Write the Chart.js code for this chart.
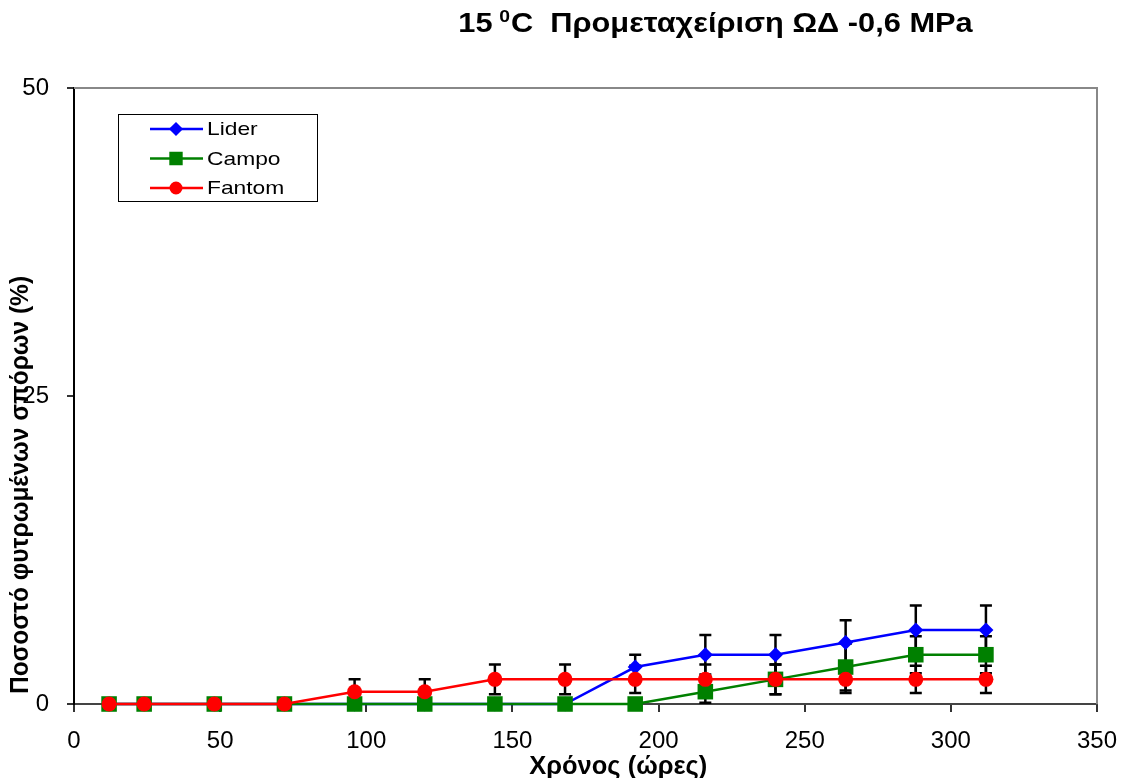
<!DOCTYPE html>
<html>
<head>
<meta charset="utf-8">
<script src="https://cdn.jsdelivr.net/npm/chart.js@4.4.1/dist/chart.umd.min.js"></script>
<style>
  body { margin: 0; background: #fff; }
  #wrap { width: 1121px; height: 778px; }
</style>
</head>
<body>
<div id="wrap"><canvas id="germChart" width="1121" height="778"></canvas></div>
<script>
// hours after sowing
const hours = [12, 24, 48, 72, 96, 120, 144, 168, 192, 216, 240, 264, 288, 312];

// germination % and error bars
const lider = [0, 0, 0, 0, 0, 0, 0, 0, 3, 4, 4, 5, 6, 6];
const liderErr = [0, 0, 0, 0, 0, 0, 0, 0, 1, 1.6, 1.6, 1.8, 2, 2];
const campo = [0, 0, 0, 0, 0, 0, 0, 0, 0, 1, 2, 3, 4, 4];
const campoErr = [0, 0, 0, 0, 0, 0, 0, 0, 0, 0.9, 1.2, 1.9, 1.5, 1.5];
const fantom = [0, 0, 0, 0, 1, 1, 2, 2, 2, 2, 2, 2, 2, 2];
const fantomErr = [0, 0, 0, 0, 1, 1, 1.2, 1.2, 1.1, 1.2, 1.2, 1.1, 1.1, 1.1];

const xTicks = [0, 50, 100, 150, 200, 250, 300, 350];
const yTicks = [0, 25, 50];

const FONT = '"Liberation Sans", Arial, sans-serif';

function points(vals) {
    return hours.map((h, i) => ({ x: h, y: vals[i] }));
}

// text drawn a bit wider than the font, like the original export
function wideText(ctx, txt, x, y, sx) {
    ctx.save();
    ctx.translate(x, y);
    ctx.scale(sx, 1);
    ctx.fillText(txt, 0, 0);
    ctx.restore();
}

// error bars drawn under the markers
const errorBars = {
    id: 'errorBars',
    beforeDatasetsDraw(chart) {
        const ctx = chart.ctx;
        const yScale = chart.scales.y;
        ctx.save();
        ctx.strokeStyle = '#000';
        ctx.lineWidth = 2.5;
        chart.data.datasets.forEach((ds, i) => {
            const meta = chart.getDatasetMeta(i);
            ds.errors.forEach((e, j) => {
                if (!e) return;
                const pt = meta.data[j];
                const v = ds.data[j].y;
                const top = yScale.getPixelForValue(v + e);
                const bot = yScale.getPixelForValue(v - e);
                ctx.beginPath();
                ctx.moveTo(pt.x, top);
                ctx.lineTo(pt.x, bot);
                ctx.moveTo(pt.x - 6, top);
                ctx.lineTo(pt.x + 6, top);
                ctx.moveTo(pt.x - 6, bot);
                ctx.lineTo(pt.x + 6, bot);
                ctx.stroke();
            });
        });
        ctx.restore();
    }
};

// plot frame, titles and the boxed legend
const decorations = {
    id: 'decorations',
    beforeDatasetsDraw(chart) {
        const ctx = chart.ctx;
        const a = chart.chartArea;
        ctx.save();
        ctx.strokeStyle = '#888';
        ctx.lineWidth = 2;
        ctx.beginPath();
        ctx.moveTo(a.left, a.top);
        ctx.lineTo(a.right, a.top);
        ctx.lineTo(a.right, a.bottom);
        ctx.stroke();
        ctx.restore();
    },
    afterDraw(chart) {
        const ctx = chart.ctx;
        const a = chart.chartArea;
        ctx.save();
        ctx.fillStyle = '#000';

        // chart title with superscript degree zero
        ctx.textBaseline = 'alphabetic';
        ctx.textAlign = 'left';
        const sx = 1.14;
        const big = 'bold 27px ' + FONT;
        const small = 'bold 17px ' + FONT;
        const p1 = '15 ', p2 = '0', p3 = 'C  Προμεταχείριση ΩΔ -0,6 MPa';
        ctx.font = big;
        const w1 = ctx.measureText(p1).width * sx;
        const w3 = ctx.measureText(p3).width * sx;
        ctx.font = small;
        const w2 = ctx.measureText(p2).width * sx;
        let tx = 716 - (w1 + w2 + w3) / 2;
        const ty = 32;
        ctx.font = big;
        wideText(ctx, p1, tx, ty, sx);
        tx += w1 - 2;
        ctx.font = small;
        wideText(ctx, p2, tx, ty - 10, sx);
        tx += w2 + 1;
        ctx.font = big;
        wideText(ctx, p3, tx, ty, sx);

        // axis titles
        ctx.font = 'bold 25px ' + FONT;
        ctx.textAlign = 'center';
        ctx.textBaseline = 'middle';
        wideText(ctx, 'Χρόνος (ώρες)', a.left + (a.right - a.left) * 0.532, 767, 1.02);
        ctx.save();
        ctx.translate(21, (a.top + a.bottom) / 2 + 89);
        ctx.rotate(-Math.PI / 2);
        ctx.scale(0.98, 1);
        ctx.fillText('Ποσοστό φυτρωμένων σπόρων (%)', 0, 0);
        ctx.restore();

        // legend
        const lx = a.left + 44, ly = a.top + 26;
        ctx.fillStyle = '#fff';
        ctx.fillRect(lx, ly, 199, 87);
        ctx.strokeStyle = '#000';
        ctx.lineWidth = 1;
        ctx.strokeRect(lx + 0.5, ly + 0.5, 199, 87);
        ctx.font = '19px ' + FONT;
        ctx.textAlign = 'left';
        ctx.textBaseline = 'middle';
        chart.data.datasets.forEach((ds, i) => {
            const ry = ly + 15 + i * 29.5;
            ctx.strokeStyle = ds.borderColor;
            ctx.lineWidth = 2.5;
            ctx.beginPath();
            ctx.moveTo(lx + 32, ry);
            ctx.lineTo(lx + 85, ry);
            ctx.stroke();
            Chart.helpers.drawPoint(ctx, {
                pointStyle: ds.pointStyle,
                radius: ds.pointRadius * 0.7,
                borderWidth: 1
            }, lx + 58, ry);
            ctx.fillStyle = ds.borderColor;
            ctx.fill();
            ctx.fillStyle = '#000';
            wideText(ctx, ds.label, lx + 89, ry + 1, 1.2);
        });
        ctx.restore();
    }
};

new Chart(document.getElementById('germChart').getContext('2d'), {
    type: 'line',
    data: {
        datasets: [
            {
                label: 'Lider',
                data: points(lider),
                errors: liderErr,
                borderColor: '#0000ff',
                backgroundColor: '#0000ff',
                pointStyle: 'rectRot',
                pointRadius: 7.5,
                order: 3
            },
            {
                label: 'Campo',
                data: points(campo),
                errors: campoErr,
                borderColor: '#008000',
                backgroundColor: '#008000',
                pointStyle: 'rect',
                pointRadius: 11,
                order: 2
            },
            {
                label: 'Fantom',
                data: points(fantom),
                errors: fantomErr,
                borderColor: '#ff0000',
                backgroundColor: '#ff0000',
                pointStyle: 'circle',
                pointRadius: 7.5,
                order: 1
            }
        ]
    },
    options: {
        responsive: false,
        animation: false,
        layout: { padding: { left: 0, right: 24, top: 88, bottom: 0 } },
        elements: {
            line: { borderWidth: 2.5, tension: 0 },
            point: { borderWidth: 0, hoverRadius: 8 }
        },
        clip: false,
        plugins: {
            legend: { display: false },
            title: { display: false },
            tooltip: { enabled: false }
        },
        scales: {
            x: {
                type: 'linear',
                min: 0,
                max: 350,
                afterBuildTicks: s => { s.ticks = xTicks.map(v => ({ value: v })); },
                afterFit: s => { s.height = 74; s.paddingLeft = 0; s.paddingRight = 0; },
                grid: { drawOnChartArea: false, drawTicks: true, tickLength: 8, color: '#333', lineWidth: 2 },
                border: { color: '#444', width: 2 },
                ticks: { color: '#000', font: { family: FONT, size: 24 }, padding: 15, maxRotation: 0 }
            },
            y: {
                min: 0,
                max: 50,
                afterBuildTicks: s => { s.ticks = yTicks.map(v => ({ value: v })); },
                afterFit: s => { s.width = 74; s.paddingTop = 0; s.paddingBottom = 0; },
                grid: { drawOnChartArea: false, drawTicks: true, tickLength: 7, color: '#333', lineWidth: 2 },
                border: { color: '#000', width: 2 },
                ticks: { color: '#000', font: { family: FONT, size: 24 }, padding: 18 }
            }
        }
    },
    plugins: [errorBars, decorations]
});
</script>
</body>
</html>
